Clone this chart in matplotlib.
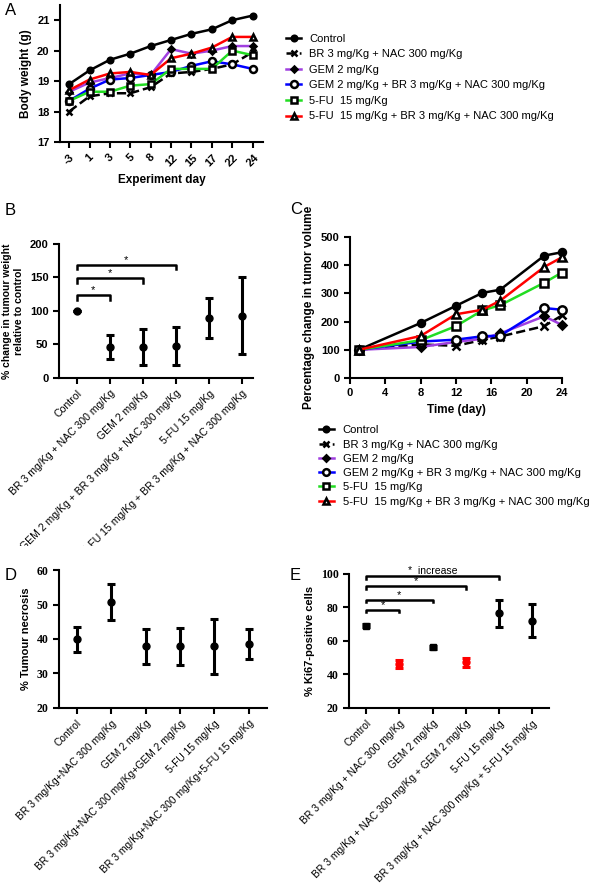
import numpy as np
import matplotlib
matplotlib.use("Agg")
import matplotlib.pyplot as plt
from matplotlib.transforms import Bbox, TransformedBbox

plt.rcParams['font.family'] = ['Liberation Sans', 'DejaVu Sans']

# ---- data ----
groups = ["Control", "BR 3 mg/Kg + NAC 300 mg/Kg", "GEM 2 mg/Kg",
          "GEM 2 mg/Kg + BR 3 mg/Kg + NAC 300 mg/Kg", "5-FU  15 mg/Kg",
          "5-FU  15 mg/Kg + BR 3 mg/Kg + NAC 300 mg/Kg"]
colors = ['black', 'black', '#a040e0', '#0000ff', '#22dd22', '#ff0000']
styles = ['-', '--', '-', '-', '-', '-']
markers = ['o', 'x', 'D', 'o', 's', '^']
mfaces = ['black', 'black', 'black', 'white', 'white', 'white']
msizes = [4, 5, 3, 5, 5, 5]

# A: body weight
days_a = ['-3', '1', '3', '5', '8', '12', '15', '17', '22', '24']
bw_control = [18.9, 19.35, 19.7, 19.9, 20.15, 20.35, 20.55, 20.7, 21.0, 21.15]
bw_brnac = [18.0, 18.5, 18.6, 18.6, 18.8, 19.25, 19.3, 19.4, 19.55, 19.95]
bw_gem = [18.65, 18.95, 19.1, 19.25, 19.2, 20.05, 19.9, 20.0, 20.15, 20.15]
bw_gem_combo = [18.35, 18.75, 19.05, 19.1, 19.2, 19.3, 19.5, 19.65, 19.55, 19.4]
bw_5fu = [18.35, 18.65, 18.65, 18.85, 18.9, 19.4, 19.4, 19.4, 20.0, 19.85]
bw_5fu_combo = [18.7, 19.05, 19.25, 19.3, 19.2, 19.75, 19.9, 20.1, 20.45, 20.45]

# B: tumour weight relative to control
b_labels = ["Control", "BR 3 mg/Kg + NAC 300 mg/Kg", "GEM 2 mg/Kg",
            "GEM 2 mg/Kg + BR 3 mg/Kg + NAC 300 mg/Kg", "5-FU 15 mg/Kg",
            "5-FU 15 mg/Kg + BR 3 mg/Kg + NAC 300 mg/Kg"]
b_mean = [100, 46, 46, 48, 89, 93]
b_low = [100, 28, 20, 20, 59, 36]
b_high = [100, 64, 73, 76, 119, 151]

# C: tumour volume
days_c = [1, 8, 12, 15, 17, 22, 24]
tv_control = [100, 195, 256, 302, 313, 434, 446]
tv_brnac = [100, 119, 114, 135, 147, 184, 222]
tv_gem = [100, 110, 128, 139, 158, 219, 188]
tv_gem_combo = [100, 129, 136, 148, 150, 248, 242]
tv_5fu = [100, 134, 184, 240, 258, 338, 374]
tv_5fu_combo = [100, 149, 226, 242, 274, 394, 428]

# D: necrosis
d_labels = ["Control", "BR 3 mg/Kg+NAC 300 mg/Kg", "GEM 2 mg/Kg",
            "BR 3 mg/Kg+NAC 300 mg/Kg+GEM 2 mg/Kg", "5-FU 15 mg/Kg",
            "BR 3 mg/Kg+NAC 300 mg/Kg+5-FU 15 mg/Kg"]
d_mean = [39.9, 50.7, 37.9, 37.9, 37.9, 38.6]
d_low = [36.2, 45.6, 32.8, 32.4, 29.8, 34.2]
d_high = [43.5, 56.0, 42.8, 43.2, 45.7, 43.0]

# E: Ki67
e_labels = ["Control", "BR 3 mg/Kg + NAC 300 mg/Kg", "GEM 2 mg/Kg",
            "BR 3 mg/Kg + NAC 300 mg/Kg + GEM 2 mg/Kg", "5-FU 15 mg/Kg",
            "BR 3 mg/Kg + NAC 300 mg/Kg + 5-FU 15 mg/Kg"]
e_mean = [69.2, 46.2, 56.2, 47.3, 76.6, 72.0]
e_low = [68.5, 43.8, 55.5, 44.6, 68.2, 62.3]
e_high = [69.9, 48.5, 56.9, 49.9, 84.6, 81.8]
e_colors = ['black', 'red', 'black', 'red', 'black', 'black']
e_markers = ['s', 'o', 's', 'o', 'o', 'o']


def style_axes(ax, yticks, serif=False):
    for s in ['top', 'right']:
        ax.spines[s].set_visible(False)
    for s in ['left', 'bottom']:
        ax.spines[s].set_linewidth(1.5)
    ax.tick_params(width=1.5, length=4, labelsize=8)
    ax.set_yticks(yticks)
    if serif:
        ax.set_yticklabels([str(v) for v in yticks], fontweight='bold',
                           fontfamily='Liberation Serif', fontsize=8.5)
    else:
        ax.set_yticklabels([str(v) for v in yticks], fontweight='bold')


def cat_labels(ax, labels, size):
    ax.set_xticks(range(len(labels)))
    ax.set_xticklabels(labels, rotation=45, ha='right', rotation_mode='anchor',
                       fontsize=size)


def bracket(ax, x1, x2, y, drop, text='*', tsize=8):
    ax.plot([x1, x1, x2, x2], [y - drop, y, y, y - drop], color='black',
            lw=1.8, clip_on=False)
    ax.text((x1 + x2) / 2, y, text, ha='center', va='bottom', fontsize=tsize)


def errplot(ax, mean, low, high, cols=None, mks=None):
    for i in range(len(mean)):
        c = cols[i] if cols else 'black'
        m = mks[i] if mks else 'o'
        ax.errorbar(i, mean[i], yerr=[[mean[i] - low[i]], [high[i] - mean[i]]],
                    fmt=m, color=c, ms=5, elinewidth=2.2, capsize=3,
                    capthick=2.2, clip_on=False)


fig = plt.figure(figsize=(6, 8.84), dpi=100)

# ---- A ----
axA = fig.add_axes([0.1, 0.8394, 0.338, 0.155])
xa = np.arange(len(days_a))
series_a = [bw_control, bw_brnac, bw_gem, bw_gem_combo, bw_5fu, bw_5fu_combo]
for i, ys in enumerate(series_a):
    axA.plot(xa, ys, color=colors[i], ls=styles[i], lw=1.8, marker=markers[i],
             ms=msizes[i], mfc=mfaces[i], mec='black', mew=1.8, label=groups[i])
axA.set_xlim(-0.45, 9.5)
axA.set_ylim(17, 21.5)
style_axes(axA, [17, 18, 19, 20, 21])
axA.set_xticks(xa)
axA.set_xticklabels(days_a, rotation=45, fontweight='bold', fontsize=8)
axA.set_xlabel('Experiment day', fontweight='bold', fontsize=8.5)
axA.set_ylabel('Body weight (g)', fontweight='bold', fontsize=8.5)
hA, lA = axA.get_legend_handles_labels()
fig.legend(hA, lA, loc='upper left', bbox_to_anchor=(0.469, 0.967),
           frameon=False, fontsize=8, handlelength=1.4, labelspacing=0.5,
           handletextpad=0.7, borderaxespad=0)

# ---- B ----
axB = fig.add_axes([0.098, 0.5724, 0.323, 0.1516])
errplot(axB, b_mean, b_low, b_high)
axB.set_xlim(-0.55, 5.33)
axB.set_ylim(0, 200)
style_axes(axB, [0, 50, 100, 150, 200])
cat_labels(axB, b_labels, 7.6)
axB.set_ylabel('% change in tumour weight\nrelative to control',
               fontweight='bold', fontsize=7.5)
bracket(axB, 0, 1, 124, 7)
bracket(axB, 0, 2, 149, 7)
bracket(axB, 0, 3, 169, 7)
# the long labels are cut by the panel below in the original figure
clipB = TransformedBbox(Bbox([[0, 1 - 546 / 884], [0.48, 0.8]]), fig.transFigure)
for t in axB.get_xticklabels():
    t.set_clip_on(True)
    t.set_clip_box(clipB)

# ---- C ----
axC = fig.add_axes([0.5833, 0.5724, 0.3533, 0.1595])
series_c = [tv_control, tv_brnac, tv_gem, tv_gem_combo, tv_5fu, tv_5fu_combo]
for i, ys in enumerate(series_c):
    axC.plot(days_c, ys, color=colors[i], ls=styles[i], lw=1.8, marker=markers[i],
             ms=msizes[i] + 1, mfc=mfaces[i], mec='black', mew=1.8,
             label=groups[i], clip_on=False)
axC.set_xlim(0, 24)
axC.set_ylim(0, 500)
style_axes(axC, [0, 100, 200, 300, 400, 500])
axC.set_xticks(range(0, 25, 4))
axC.set_xticklabels([str(v) for v in range(0, 25, 4)], fontweight='bold',
                    fontsize=8)
axC.set_xlabel('Time (day)', fontweight='bold', fontsize=8.5)
axC.set_ylabel('Percentage change in tumor volume', fontweight='bold',
               fontsize=8.5)
hC, lC = axC.get_legend_handles_labels()
fig.legend(hC, lC, loc='upper left', bbox_to_anchor=(0.524, 0.524),
           frameon=False, fontsize=8.1, handlelength=1.3, labelspacing=0.38,
           handletextpad=0.8, borderaxespad=0, markerscale=0.8)

# ---- D ----
axD = fig.add_axes([0.098, 0.1991, 0.3467, 0.1561])
errplot(axD, d_mean, d_low, d_high)
axD.set_xlim(-0.52, 5.52)
axD.set_ylim(20, 60)
style_axes(axD, [20, 30, 40, 50, 60], serif=True)
cat_labels(axD, d_labels, 7.4)
axD.set_ylabel('% Tumour necrosis', fontweight='bold', fontsize=8)

# ---- E ----
axE = fig.add_axes([0.5817, 0.1991, 0.3333, 0.1516])
errplot(axE, e_mean, e_low, e_high, e_colors, e_markers)
axE.set_xlim(-0.51, 5.5)
axE.set_ylim(20, 100)
style_axes(axE, [20, 40, 60, 80, 100], serif=True)
cat_labels(axE, e_labels, 7.4)
axE.set_ylabel('% Ki67-positive cells', fontweight='bold', fontsize=8)
bracket(axE, 0, 1, 78.6, 1.5)
bracket(axE, 0, 2, 84.6, 1.5)
bracket(axE, 0, 3, 92.6, 1.5)
bracket(axE, 0, 4, 98.6, 1.5, text='*  increase', tsize=7.5)

# panel letters
for lab, x, y in [('A', 0.008, 0.997), ('B', 0.008, 0.77), ('C', 0.483, 0.772),
                  ('D', 0.008, 0.358), ('E', 0.483, 0.358)]:
    fig.text(x, y, lab, fontsize=12, va='top', ha='left')

fig.savefig('out.png', dpi=100)
